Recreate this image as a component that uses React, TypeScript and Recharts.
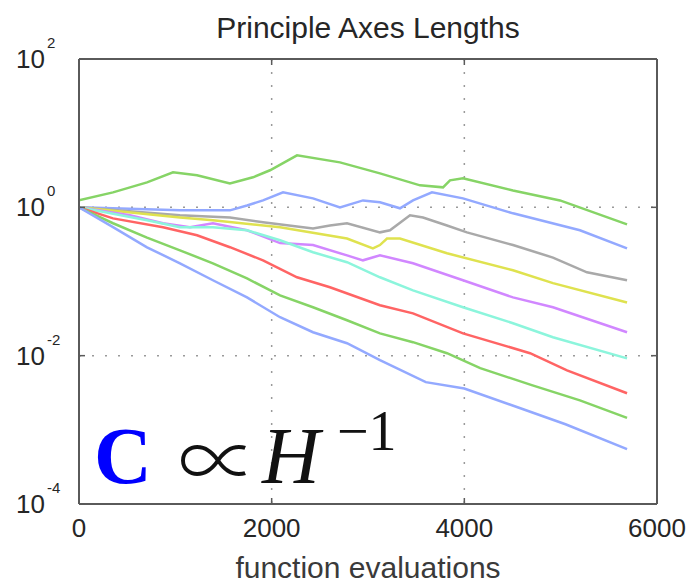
import React from "react";
import { LineChart, Line, XAxis, YAxis, CartesianGrid } from "recharts";

// ---- data (function evaluations vs. principal axis length) ----
const xTicks = [0, 2000, 4000, 6000];
const yTicks = [1e-4, 1e-2, 1, 100];

const greenUpperX = [0, 353, 706, 976, 1225, 1567, 1806, 1983, 2263, 2709, 3124, 3540, 3779, 3851, 3986, 4505, 4993, 5689];
const greenUpperY = [1.24, 1.59, 2.17, 2.96, 2.7, 2.1, 2.54, 3.16, 5.02, 4.04, 2.87, 1.98, 1.86, 2.31, 2.46, 1.69, 1.24, 0.59];

const blueUpperX = [0, 1048, 1567, 1744, 1910, 2118, 2429, 2709, 2948, 3124, 3332, 3467, 3664, 3986, 4505, 5200, 5689];
const blueUpperY = [1.0, 0.91, 0.91, 1.06, 1.24, 1.59, 1.32, 1.0, 1.24, 1.17, 0.97, 1.24, 1.59, 1.32, 0.83, 0.49, 0.28];

const grayX = [0, 1048, 1567, 1910, 2429, 2605, 2782, 3124, 3228, 3436, 3571, 3820, 4027, 4505, 4920, 5273, 5689];
const grayY = [1.0, 0.78, 0.73, 0.63, 0.52, 0.57, 0.61, 0.46, 0.49, 0.78, 0.73, 0.57, 0.46, 0.31, 0.21, 0.133, 0.104];

const yellowX = [0, 1048, 1390, 2087, 2782, 3051, 3124, 3197, 3332, 3820, 4505, 4920, 5689];
const yellowY = [1.0, 0.73, 0.67, 0.54, 0.38, 0.28, 0.31, 0.38, 0.38, 0.24, 0.142, 0.095, 0.052];

const purpleX = [0, 529, 872, 1152, 1390, 1744, 2087, 2429, 2782, 2948, 3124, 3467, 3986, 4505, 4920, 5689];
const purpleY = [1.0, 0.78, 0.61, 0.54, 0.61, 0.49, 0.33, 0.31, 0.225, 0.193, 0.225, 0.176, 0.104, 0.061, 0.045, 0.0207];

const cyanX = [0, 706, 1048, 1390, 1744, 2087, 2429, 2782, 3124, 3467, 3986, 4505, 4920, 5689];
const cyanY = [1.0, 0.67, 0.54, 0.54, 0.49, 0.36, 0.248, 0.182, 0.114, 0.076, 0.045, 0.0274, 0.0177, 0.0092];

const redX = [0, 353, 872, 1225, 1567, 1910, 2263, 2605, 3124, 3467, 3986, 4682, 5066, 5689];
const redY = [1.0, 0.71, 0.54, 0.42, 0.29, 0.193, 0.114, 0.0836, 0.0478, 0.0372, 0.02, 0.0108, 0.00635, 0.00311];

const greenLowerX = [0, 353, 706, 1048, 1390, 1744, 2087, 2429, 2782, 3124, 3467, 3820, 4165, 4700, 5200, 5689];
const greenLowerY = [1.0, 0.61, 0.39, 0.263, 0.176, 0.11, 0.065, 0.045, 0.03, 0.02, 0.0152, 0.0108, 0.0068, 0.004, 0.0025, 0.00145];

const blueLowerX = [0, 353, 706, 1048, 1390, 1744, 2087, 2429, 2782, 3124, 3600, 4000, 4560, 5050, 5689];
const blueLowerY = [1.0, 0.54, 0.289, 0.176, 0.104, 0.061, 0.033, 0.0207, 0.0147, 0.0087, 0.0044, 0.0036, 0.002, 0.00119, 0.00055];

const GREEN = "#86d466";
const BLUE = "#93a9ff";

const seriesList = [
  { name: "g1", xs: greenUpperX, ys: greenUpperY, color: GREEN },
  { name: "b1", xs: blueUpperX, ys: blueUpperY, color: BLUE },
  { name: "gray", xs: grayX, ys: grayY, color: "#a9a9a9" },
  { name: "yellow", xs: yellowX, ys: yellowY, color: "#dfe24f" },
  { name: "purple", xs: purpleX, ys: purpleY, color: "#d187ff" },
  { name: "cyan", xs: cyanX, ys: cyanY, color: "#8cf5dc" },
  { name: "red", xs: redX, ys: redY, color: "#ff6464" },
  { name: "g2", xs: greenLowerX, ys: greenLowerY, color: GREEN },
  { name: "b2", xs: blueLowerX, ys: blueLowerY, color: BLUE },
];

const expOf = (v: number) => Math.round(Math.log10(v));

const FONT = "'Liberation Sans', Arial, Helvetica, sans-serif";
const TXT = "#262626";
const AXIS = "#5a5a5a";

const BottomTick = (props: any) => {
  const { x, y, payload } = props;
  return (
    <g>
      <line x1={x} y1={y} x2={x} y2={y - 6} stroke={AXIS} strokeWidth={1.5} />
      <text x={x} y={y + 33} textAnchor="middle" fontFamily={FONT} fontSize={26} fill={TXT}>
        {String(payload.value)}
      </text>
    </g>
  );
};

const TopTick = (props: any) => {
  const { x, y, payload } = props;
  if (payload.value === 0 || payload.value === 6000) return <g />;
  return <line x1={x} y1={y} x2={x} y2={y + 6} stroke={AXIS} strokeWidth={1.5} />;
};

const LeftTick = (props: any) => {
  const { x, y, payload } = props;
  const e = expOf(payload.value);
  return (
    <g>
      <line x1={x} y1={y} x2={x + 6} y2={y} stroke={AXIS} strokeWidth={1.5} />
      <text x={x - 34} y={y + 9} textAnchor="end" fontFamily={FONT} fontSize={26} fill={TXT}>
        10
      </text>
      <text x={x - 32} y={y - 11} textAnchor="start" fontFamily={FONT} fontSize={15} fill={TXT}>
        {String(e)}
      </text>
    </g>
  );
};

const RightTick = (props: any) => {
  const { x, y } = props;
  return <line x1={x} y1={y} x2={x - 6} y2={y} stroke={AXIS} strokeWidth={1.5} />;
};

export default function App() {
  return (
    <div style={{ position: "absolute", left: 0, top: 0, width: 693, height: 583, background: "#fff" }}>
      <LineChart width={693} height={583} margin={{ top: 58, right: 35, bottom: 0, left: 0 }}>
        <CartesianGrid
          xAxisId="bottom"
          yAxisId="left"
          stroke="#9a9a9a"
          strokeWidth={1.5}
          strokeDasharray="2 11"
        />
        <XAxis
          xAxisId="bottom"
          type="number"
          dataKey="x"
          domain={[0, 6000]}
          ticks={xTicks}
          height={79}
          tickSize={0}
          tickMargin={0}
          tickLine={false}
          axisLine={{ stroke: AXIS, strokeWidth: 2 }}
          tick={<BottomTick />}
          allowDataOverflow
        />
        <XAxis
          xAxisId="top"
          orientation="top"
          type="number"
          dataKey="x"
          domain={[0, 6000]}
          ticks={xTicks}
          height={1}
          tickSize={0}
          tickMargin={0}
          tickLine={false}
          axisLine={{ stroke: AXIS, strokeWidth: 2 }}
          tick={<TopTick />}
          allowDataOverflow
        />
        <YAxis
          yAxisId="left"
          scale="log"
          type="number"
          domain={[1e-4, 100]}
          ticks={yTicks}
          width={79}
          tickSize={0}
          tickMargin={0}
          tickLine={false}
          axisLine={{ stroke: AXIS, strokeWidth: 2 }}
          tick={<LeftTick />}
          allowDataOverflow
        />
        <YAxis
          yAxisId="right"
          orientation="right"
          scale="log"
          type="number"
          domain={[1e-4, 100]}
          ticks={yTicks}
          width={1}
          tickSize={0}
          tickMargin={0}
          tickLine={false}
          axisLine={{ stroke: AXIS, strokeWidth: 2 }}
          tick={<RightTick />}
          allowDataOverflow
        />
        {seriesList.map((s) => (
          <Line
            key={s.name}
            xAxisId="bottom"
            yAxisId="left"
            data={s.xs.map((xv, i) => ({ x: xv, y: s.ys[i] }))}
            dataKey="y"
            type="linear"
            stroke={s.color}
            strokeWidth={2.5}
            dot={false}
            isAnimationActive={false}
          />
        ))}
      </LineChart>
      <svg
        width={693}
        height={583}
        style={{ position: "absolute", left: 0, top: 0, pointerEvents: "none" }}
      >
        <text x={368} y={38} textAnchor="middle" fontFamily={FONT} fontSize={30} fill={TXT}>
          Principle Axes Lengths
        </text>
        <text x={368} y={578} textAnchor="middle" fontFamily={FONT} fontSize={30} fill="#3a3a3a">
          function evaluations
        </text>
        <text x={94} y={483} fontFamily="'Liberation Serif', 'DejaVu Serif', serif" fontSize={80} fontWeight="bold" fill="#0000ff">
          C
        </text>
        <text x={178} y={490} fontFamily="'Noto Sans CJK JP', 'DejaVu Serif', serif" fontSize={80} fontWeight={300} fill="#111">
          ∝
        </text>
        <text x={262} y={483} fontFamily="'Liberation Serif', serif" fontSize={80} fontStyle="italic" fill="#111">
          H
        </text>
        <text x={337} y={450} fontFamily="'Liberation Serif', serif" fontSize={56} fill="#111">
          −1
        </text>
      </svg>
    </div>
  );
}
